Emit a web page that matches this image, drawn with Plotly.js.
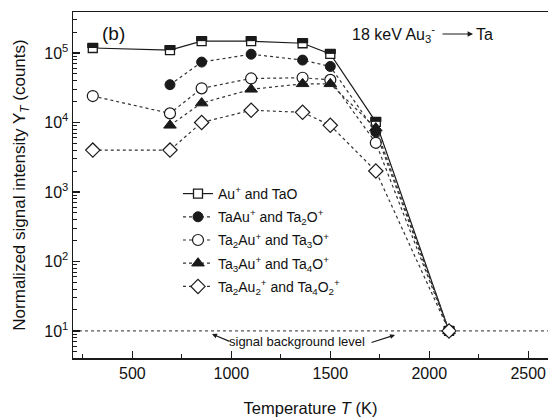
<!DOCTYPE html>
<html>
<head>
<meta charset="utf-8">
<script src="https://cdn.plot.ly/plotly-3.0.1.min.js"></script>
<style>html,body{margin:0;padding:0;background:#fff;}#chart{width:548px;height:417px;}</style>
</head>
<body>
<div id="chart"></div>
<script>
// Temperatures (K)
const tempAll = [300, 690, 850, 1100, 1360, 1500, 1730, 2100];
const tempFrom690 = [690, 850, 1100, 1360, 1500, 1730, 2100];

// Series values (counts)
const auTaO = [1.18e5, 1.10e5, 1.48e5, 1.48e5, 1.38e5, 0.97e5, 1.02e4, 10];
const taAuTa2O = [3.5e4, 7.4e4, 9.6e4, 7.9e4, 6.4e4, 7.3e3, 10];
const ta2AuTa3O = [2.4e4, 1.35e4, 3.1e4, 4.3e4, 4.4e4, 4.1e4, 5.1e3, 10];
const ta3AuTa4O = [9.1e3, 1.9e4, 3.0e4, 3.6e4, 3.6e4, 8.3e3, 10];
const ta2Au2Ta4O2 = [4.0e3, 4.0e3, 1.0e4, 1.5e4, 1.4e4, 9.1e3, 2.0e3, 10];

// Signal background level
const bgTemp = [200, 2600];
const bgLevel = [10, 10];

// Legend labels
const names = [
  "Au<sup>+</sup> and TaO",
  "TaAu<sup>+</sup> and Ta<sub>2</sub>O<sup>+</sup>",
  "Ta<sub>2</sub>Au<sup>+</sup> and Ta<sub>3</sub>O<sup>+</sup>",
  "Ta<sub>3</sub>Au<sup>+</sup> and Ta<sub>4</sub>O<sup>+</sup>",
  "Ta<sub>2</sub>Au<sub>2</sub><sup>+</sup> and Ta<sub>4</sub>O<sub>2</sub><sup>+</sup>"
];

// Tick labels
const yTickVals = [10, 100, 1000, 10000, 100000];
const yTickText = ["10<sup>1</sup>", "10<sup>2</sup>", "10<sup>3</sup>", "10<sup>4</sup>", "10<sup>5</sup>"];
const xTickVals = [500, 1000, 1500, 2000, 2500];

const yMinor = [];
for (let d = 0; d <= 5; d++) for (let m = 2; m <= 9; m++) yMinor.push(m * Math.pow(10, d));
const xMinor = [];
for (let v = 250; v <= 2600; v += 500) xMinor.push(v);

const ink = '#1a1a1a';
const dotLine = {color: '#333', width: 1.2, dash: 'dot'};

// top-half fill for the square marker of series 1
const halfShift = Math.pow(10, 2.4 / 69.5);
const auTaOTop = auTaO.map(v => v * halfShift);

const traces = [
  {x: bgTemp, y: bgLevel, mode: 'lines', line: {color: '#555', width: 1.2, dash: 'dot'}, showlegend: false, hoverinfo: 'skip'},
  {x: tempAll, y: auTaO, name: names[0], legendgroup: 'a', mode: 'lines+markers', line: {color: ink, width: 1.2},
   marker: {symbol: 'square', size: 9, color: 'white', line: {color: ink, width: 1.3}}},
  {x: tempAll, y: auTaOTop, mode: 'markers', showlegend: false, hoverinfo: 'skip', legendgroup: 'a',
   marker: {symbol: 'line-ew-open', size: 8, color: ink, line: {color: ink, width: 4.8}}},
  {x: tempFrom690, y: taAuTa2O, name: names[1], legendgroup: 'b', mode: 'lines+markers', line: dotLine,
   marker: {symbol: 'circle', size: 10, color: ink, line: {color: ink, width: 1}}},
  {x: tempAll, y: ta2AuTa3O, name: names[2], legendgroup: 'c', mode: 'lines+markers', line: dotLine,
   marker: {symbol: 'circle', size: 11, color: 'white', line: {color: ink, width: 1.2}}},
  {x: tempFrom690, y: ta3AuTa4O, name: names[3], legendgroup: 'd', mode: 'lines+markers', line: dotLine,
   marker: {symbol: 'triangle-up', size: 11, color: ink, line: {color: ink, width: 1}}},
  {x: tempAll, y: ta2Au2Ta4O2, name: names[4], legendgroup: 'e', mode: 'lines+markers', line: dotLine,
   marker: {symbol: 'diamond', size: 11, color: 'white', line: {color: ink, width: 1.2}}}
];

const font = {family: 'Liberation Sans, Arial, sans-serif', color: '#111', size: 16};
const px = v => (v - 73) / 475;
const py = v => (358 - v) / 346;

const layout = {
  width: 548, height: 417,
  margin: {l: 73, r: 0, t: 12, b: 59},
  paper_bgcolor: 'white', plot_bgcolor: 'white',
  font: font,
  showlegend: true,
  legend: {x: px(178), y: py(178), xanchor: 'left', yanchor: 'top', bgcolor: 'rgba(0,0,0,0)',
           font: {family: font.family, size: 14, color: '#111'}, tracegroupgap: 2, traceorder: 'grouped'},
  xaxis: {
    type: 'linear', range: [200, 2600],
    tickmode: 'array', tickvals: xTickVals, ticks: 'inside', ticklen: 7, tickwidth: 1.3, tickcolor: ink,
    minor: {tickmode: 'array', tickvals: xMinor, ticks: 'inside', ticklen: 4, tickwidth: 1, tickcolor: ink},
    showline: true, linecolor: ink, linewidth: 1.5, mirror: true,
    showgrid: false, zeroline: false,
    tickfont: {size: 16},
    title: {text: 'Temperature <i>T</i> (K)', font: {size: 16.5}, standoff: 22}
  },
  yaxis: {
    type: 'log', range: [0.61, 5.59],
    tickmode: 'array', tickvals: yTickVals, ticktext: yTickText, ticks: 'inside', ticklen: 7, tickwidth: 1.3, tickcolor: ink,
    minor: {tickmode: 'array', tickvals: yMinor, ticks: 'inside', ticklen: 4, tickwidth: 1, tickcolor: ink},
    showline: true, linecolor: ink, linewidth: 1.5,
    showgrid: false, zeroline: false,
    tickfont: {size: 16},
    title: {text: 'Normalized signal intensity Y<sub><i>T</i></sub> (counts)', font: {size: 17}, standoff: 14}
  },
  annotations: [
    {xref: 'paper', yref: 'paper', x: px(100), y: py(33), xanchor: 'left', yanchor: 'middle', text: '(b)', showarrow: false, font: {size: 19}},
    {xref: 'paper', yref: 'paper', x: px(437), y: py(34), xanchor: 'right', yanchor: 'middle', text: '18 keV Au<sub>3</sub><sup>-</sup>', showarrow: false, font: {size: 16}},
    {xref: 'paper', yref: 'paper', x: px(473), y: py(34), ax: -32, ay: 0, text: '', showarrow: true, arrowhead: 2, arrowsize: 0.9, arrowwidth: 1.2, arrowcolor: ink},
    {xref: 'paper', yref: 'paper', x: px(474), y: py(34), xanchor: 'left', yanchor: 'middle', text: 'Ta', showarrow: false, font: {size: 16}},
    {xref: 'paper', yref: 'paper', x: px(297), y: py(341), xanchor: 'center', yanchor: 'middle', text: 'signal background level', showarrow: false, font: {size: 13}},
    {xref: 'paper', yref: 'paper', x: px(212), y: py(334), ax: 19, ay: 8, text: '', showarrow: true, arrowhead: 2, arrowsize: 0.9, arrowwidth: 1.1, arrowcolor: ink},
    {xref: 'paper', yref: 'paper', x: px(395), y: py(335), ax: -25, ay: 8, text: '', showarrow: true, arrowhead: 2, arrowsize: 0.9, arrowwidth: 1.1, arrowcolor: ink}
  ]
};

Plotly.newPlot('chart', traces, layout, {displayModeBar: false, staticPlot: true});
</script>
</body>
</html>
